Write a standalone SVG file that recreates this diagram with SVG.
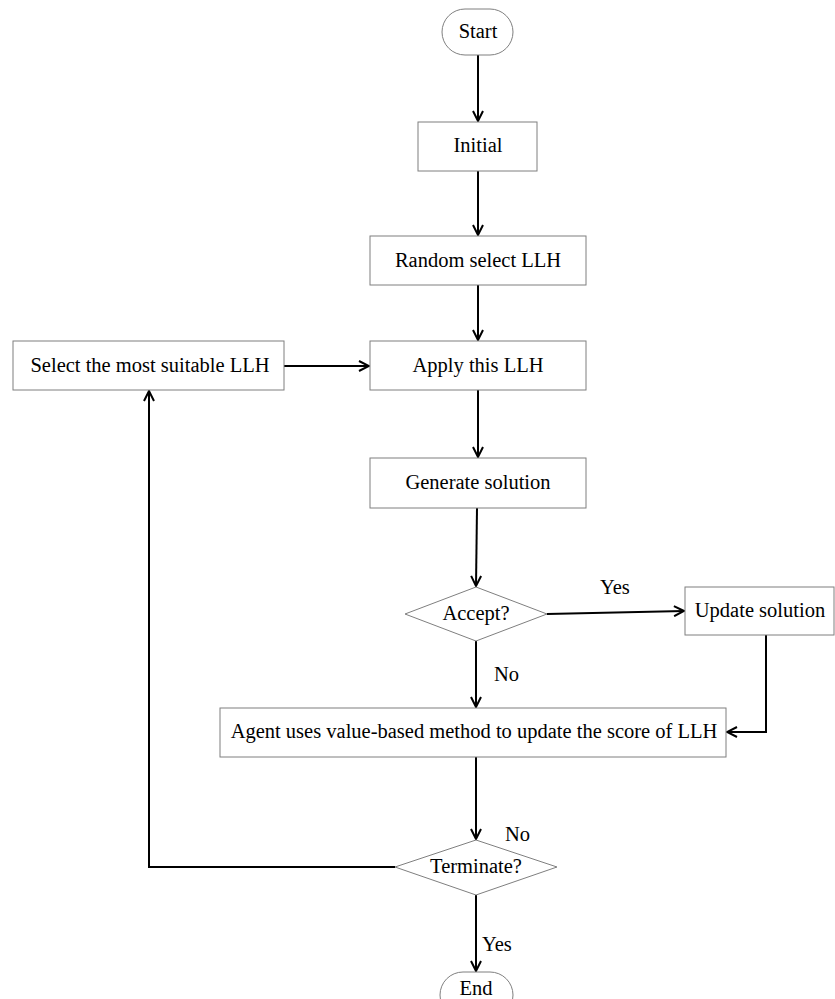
<svg xmlns="http://www.w3.org/2000/svg" width="835" height="999" viewBox="0 0 835 999">
<style>
.box{fill:#fff;stroke:#7f7f7f;stroke-width:1}
.t{font-family:"Liberation Serif","Times New Roman",serif;font-size:20.5px;fill:#000;text-anchor:middle;dominant-baseline:central}
.lbl{font-family:"Liberation Serif","Times New Roman",serif;font-size:20.5px;fill:#000}
.c{fill:none;stroke:#000;stroke-width:2}
</style>
<defs>
<marker id="ah" viewBox="0 0 12 12" refX="11" refY="6" markerWidth="12" markerHeight="12" markerUnits="userSpaceOnUse" orient="auto">
<path d="M1,1 L11,6 L1,11" fill="none" stroke="#000" stroke-width="2"/>
</marker>
</defs>
<rect width="835" height="999" fill="#fff"/>
<g id="connectors">
<path class="c" d="M478,55 L478,121" marker-end="url(#ah)"/>
<path class="c" d="M478,171 L478,235" marker-end="url(#ah)"/>
<path class="c" d="M478,285 L478,340" marker-end="url(#ah)"/>
<path class="c" d="M284,366 L369,366" marker-end="url(#ah)"/>
<path class="c" d="M478,390 L478,457" marker-end="url(#ah)"/>
<path class="c" d="M477,508 L476,586" marker-end="url(#ah)"/>
<path class="c" d="M547,614 L684,611" marker-end="url(#ah)"/>
<path class="c" d="M766,635 L766,732 L727,732" marker-end="url(#ah)"/>
<path class="c" d="M476,641 L476,707" marker-end="url(#ah)"/>
<path class="c" d="M476,757 L476,839" marker-end="url(#ah)"/>
<path class="c" d="M395,867 L149,867 L149,391" marker-end="url(#ah)"/>
<path class="c" d="M476,895 L476,971" marker-end="url(#ah)"/>
<text class="lbl" x="600" y="594">Yes</text>
<text class="lbl" x="494" y="681">No</text>
<text class="lbl" x="505" y="841">No</text>
<text class="lbl" x="482" y="951">Yes</text>
</g>
<g id="start"><rect class="box" x="442" y="9" width="71" height="46" rx="23"/><text class="t" x="478" y="31">Start</text></g>
<g id="initial"><rect class="box" x="418" y="122" width="119" height="49"/><text class="t" x="478" y="145">Initial</text></g>
<g id="random"><rect class="box" x="370" y="236" width="216" height="49"/><text class="t" x="478" y="260">Random select LLH</text></g>
<g id="select"><rect class="box" x="13" y="341" width="271" height="49"/><text class="t" x="150" y="365">Select the most suitable LLH</text></g>
<g id="apply"><rect class="box" x="370" y="341" width="216" height="49"/><text class="t" x="478" y="365">Apply this LLH</text></g>
<g id="generate"><rect class="box" x="370" y="458" width="216" height="50"/><text class="t" x="478" y="482">Generate solution</text></g>
<g id="accept"><polygon class="box" points="476,587 547,614 476,641 405,614"/><text class="t" x="476" y="613">Accept?</text></g>
<g id="update"><rect class="box" x="685" y="587" width="149" height="48"/><text class="t" x="760" y="610">Update solution</text></g>
<g id="agent"><rect class="box" x="220" y="708" width="506" height="49"/><text class="t" x="474" y="731">Agent uses value-based method to update the score of LLH</text></g>
<g id="terminate"><polygon class="box" points="476,840 557,867 476,895 395,867"/><text class="t" x="476" y="866">Terminate?</text></g>
<g id="end"><rect class="box" x="440" y="972" width="73" height="46" rx="23"/><text class="t" x="476" y="988">End</text></g>
</svg>
